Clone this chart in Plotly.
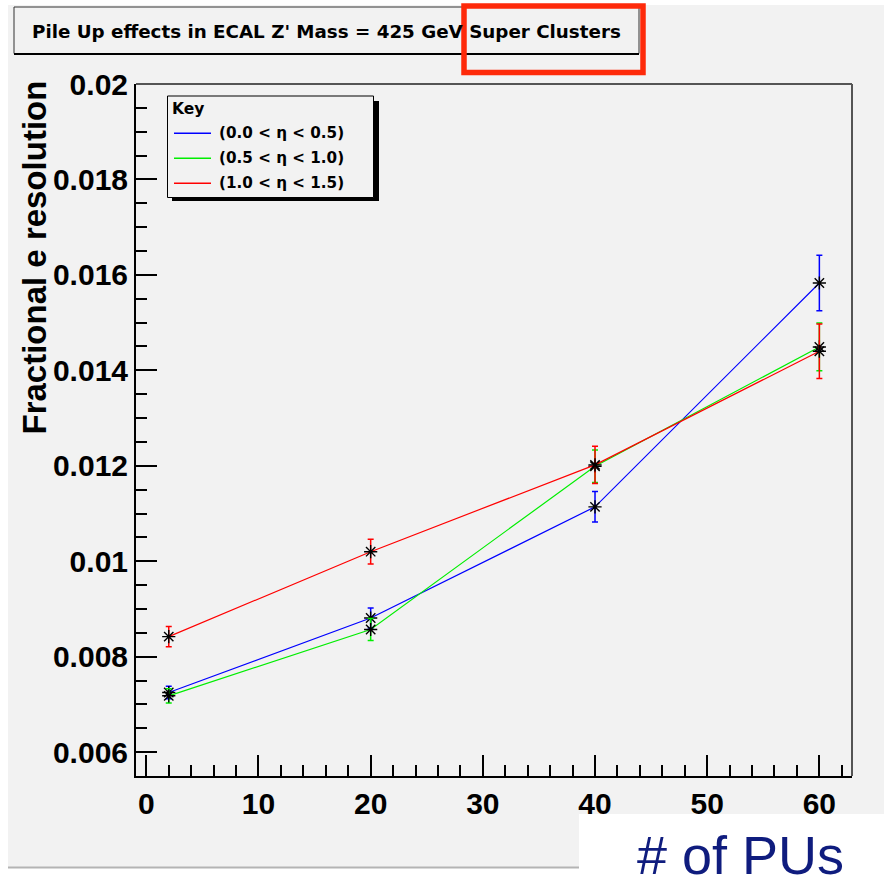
import plotly.graph_objects as go

# ---------------- data ----------------
n_pu = [2, 20, 40, 60]

res_eta_00_05 = [0.00725, 0.00881, 0.01114, 0.01583]
err_eta_00_05 = [0.00013, 0.00021, 0.00032, 0.00058]

res_eta_05_10 = [0.00718, 0.00857, 0.01199, 0.01449]
err_eta_05_10 = [0.00015, 0.00023, 0.00034, 0.00050]

res_eta_10_15 = [0.00842, 0.01020, 0.01202, 0.01440]
err_eta_10_15 = [0.00021, 0.00026, 0.00039, 0.00057]

series_names = ["(0.0 < \u03b7 < 0.5)", "(0.5 < \u03b7 < 1.0)", "(1.0 < \u03b7 < 1.5)"]
series_colors = ["#0000ff", "#00ee00", "#ff0000"]

x_tick_vals = [0, 10, 20, 30, 40, 50, 60]
x_tick_text = ["0", "10", "20", "30", "40", "50", "60"]
y_tick_vals = [0.006, 0.008, 0.010, 0.012, 0.014, 0.016, 0.018, 0.020]
y_tick_text = ["0.006", "0.008", "0.01", "0.012", "0.014", "0.016", "0.018", "0.02"]

title_text = "Pile Up effects in ECAL Z' Mass = 425 GeV Super Clusters"
y_title = "Fractional e resolution"
x_title = "# of PUs"
legend_title = "Key"

# ---------------- geometry helpers ----------------
FIG_W, FIG_H = 884, 884
L, R, T, B = 136, 852, 84, 776
W, H = R - L, B - T


def px(xp):
    return (xp - L) / W


def py(yp):
    return (B - yp) / H


BOLD_AX = dict(family="Liberation Sans, Arial, sans-serif", weight="bold", color="black")
BOLD_DV = dict(family="DejaVu Sans, sans-serif", weight="bold", color="black")

fig = go.Figure()

values = [res_eta_00_05, res_eta_05_10, res_eta_10_15]
errors = [err_eta_00_05, err_eta_05_10, err_eta_10_15]
for name, col, v, e in zip(series_names, series_colors, values, errors):
    fig.add_trace(go.Scatter(
        x=n_pu, y=v, name=name, mode="lines+markers",
        line=dict(color=col, width=1.2),
        marker=dict(symbol="asterisk-open", size=11, color="black",
                    line=dict(color="black", width=1.4)),
        error_y=dict(type="data", array=e, visible=True, color=col,
                     thickness=1.5, width=3),
        showlegend=False,
    ))

shapes = []
# canvas (gray) background
shapes.append(dict(type="rect", xref="paper", yref="paper", layer="below",
                   x0=px(8), x1=px(884), y0=py(868), y1=py(5),
                   fillcolor="#f2f2f2", line=dict(width=0)))
shapes.append(dict(type="line", xref="paper", yref="paper", layer="below",
                   x0=px(8), x1=px(884), y0=py(867.5), y1=py(867.5),
                   line=dict(color="#b4b4b4", width=2)))
# frame top / right
shapes.append(dict(type="line", xref="paper", yref="paper",
                   x0=0, x1=1, y0=1, y1=1, line=dict(color="#555555", width=2)))
shapes.append(dict(type="line", xref="paper", yref="paper",
                   x0=1, x1=1, y0=0, y1=1, line=dict(color="#555555", width=2)))
# title box
shapes.append(dict(type="rect", xref="paper", yref="paper",
                   x0=px(14), x1=px(639), y0=py(53.5), y1=py(7),
                   fillcolor="#f2f2f2", line=dict(color="#333333", width=1)))
shapes.append(dict(type="line", xref="paper", yref="paper",
                   x0=px(14), x1=px(639), y0=py(54), y1=py(54),
                   line=dict(color="black", width=2)))
# red highlight rectangle
shapes.append(dict(type="rect", xref="paper", yref="paper",
                   x0=px(464), x1=px(643), y0=py(72.5), y1=py(6),
                   line=dict(color="#fe2a0a", width=5.5)))
# legend box with shadow
shapes.append(dict(type="rect", xref="paper", yref="paper",
                   x0=px(172), x1=px(379), y0=py(201), y1=py(101),
                   fillcolor="black", line=dict(width=0)))
shapes.append(dict(type="rect", xref="paper", yref="paper",
                   x0=px(167.5), x1=px(373.5), y0=py(197.5), y1=py(96),
                   fillcolor="#f2f2f2", line=dict(color="black", width=1)))
legend_rows = [133.3, 158.3, 183.3]
for col, yy in zip(series_colors, legend_rows):
    shapes.append(dict(type="line", xref="paper", yref="paper",
                       x0=px(174), x1=px(211), y0=py(yy), y1=py(yy),
                       line=dict(color=col, width=1.5)))
# white box for x title
shapes.append(dict(type="rect", xref="paper", yref="paper",
                   x0=px(579), x1=px(890), y0=py(890), y1=py(814),
                   fillcolor="white", line=dict(width=0)))

annotations = []
annotations.append(dict(text=title_text, xref="paper", yref="paper",
                        x=px(30), y=py(31), xanchor="left", yanchor="middle",
                        showarrow=False, font=dict(size=18.3, **BOLD_DV)))
annotations.append(dict(text=legend_title, xref="paper", yref="paper",
                        x=px(170), y=py(109), xanchor="left", yanchor="middle",
                        showarrow=False, font=dict(size=15.5, **BOLD_DV)))
for name, yy in zip(series_names, legend_rows):
    annotations.append(dict(text=name, xref="paper", yref="paper",
                            x=px(217), y=py(yy), xanchor="left", yanchor="middle",
                            showarrow=False, font=dict(size=15.2, **BOLD_DV)))
annotations.append(dict(text=y_title, xref="paper", yref="paper",
                        x=px(34), y=py(257.5), xanchor="center", yanchor="middle",
                        textangle=-90, showarrow=False,
                        font=dict(size=33, **BOLD_AX)))
annotations.append(dict(text=x_title, xref="paper", yref="paper",
                        x=px(740.5), y=py(855), xanchor="center", yanchor="middle",
                        showarrow=False,
                        font=dict(size=54, family="Liberation Sans, Arial, sans-serif",
                                  color="#0f1c7e")))

fig.update_layout(
    width=FIG_W, height=FIG_H,
    margin=dict(l=L, r=FIG_W - R, t=T, b=FIG_H - B, pad=0),
    paper_bgcolor="white", plot_bgcolor="#f2f2f2",
    shapes=shapes, annotations=annotations,
    showlegend=False,
)
fig.update_xaxes(
    range=[-0.92, 62.91], showgrid=False, zeroline=False,
    showline=True, linecolor="black", linewidth=2,
    tickmode="array", tickvals=x_tick_vals, ticktext=x_tick_text,
    ticks="inside", ticklen=21, tickwidth=1.5, tickcolor="black",
    minor=dict(dtick=2, tick0=0, ticks="inside", ticklen=11, tickwidth=1.5,
               tickcolor="black", showgrid=False),
    tickfont=dict(size=30, **BOLD_AX),
)
fig.update_yaxes(
    range=[0.0055, 0.020], showgrid=False, zeroline=False,
    showline=True, linecolor="black", linewidth=2,
    tickmode="array", tickvals=y_tick_vals, ticktext=y_tick_text,
    ticks="inside", ticklen=21, tickwidth=1.5, tickcolor="black",
    minor=dict(dtick=0.0005, tick0=0, ticks="inside", ticklen=11, tickwidth=1.5,
               tickcolor="black", showgrid=False),
    tickfont=dict(size=30, **BOLD_AX),
)

fig.write_html("out.html")
